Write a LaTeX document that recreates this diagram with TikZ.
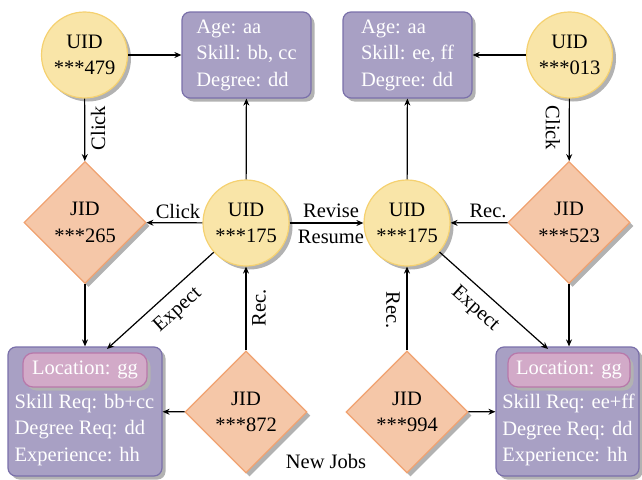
\documentclass[tikz,border=0pt]{standalone}
\usepackage{fontspec}
\setmainfont{Liberation Serif}
\usetikzlibrary{shapes.geometric,shadows,arrows.meta}
\definecolor{cfill}{HTML}{F9E5A8}
\definecolor{cdraw}{HTML}{F5D170}
\definecolor{dfill}{HTML}{F5C7A8}
\definecolor{ddraw}{HTML}{F0A270}
\definecolor{pfill}{HTML}{A8A0C4}
\definecolor{pdraw}{HTML}{7A70AA}
\definecolor{lfill}{HTML}{D2AAC8}
\definecolor{ldraw}{HTML}{B878AA}
\tikzset{
  shad/.style={drop shadow={shadow xshift=3.5pt,shadow yshift=-3.5pt,fill=black!30,opacity=1}},
  uid/.style={circle,shad,fill=cfill,draw=cdraw,line width=1.2pt,minimum size=86pt,inner sep=0pt,align=center},
  jid/.style={diamond,aspect=1,shad,fill=dfill,draw=ddraw,line width=1.2pt,minimum size=122pt,inner sep=0pt,align=center},
  prof/.style={rectangle,rounded corners=8pt,shad,fill=pfill,draw=pdraw,line width=1.2pt,inner sep=0pt},
  loc/.style={rectangle,rounded corners=10pt,shad,fill=lfill,draw=ldraw,line width=1.2pt,inner sep=0pt,text=white},
  wtxt/.style={text=white,align=left,inner sep=0pt},
  arr/.style={-{Stealth[length=7pt,width=6pt]},line width=1.2pt},
  lab/.style={inner sep=0pt}
}
\begin{document}
\begin{tikzpicture}[x=1pt,y=-1pt,font=\fontsize{20.5}{26.5}\selectfont]
\useasboundingbox (0,0) rectangle (642,479);
% circles
\node[uid] (u479) at (84.5,55) {UID\\***479};
\node[uid] (u013) at (569.5,55) {UID\\***013};
\node[uid] (u175l) at (246,223) {UID\\***175};
\node[uid] (u175r) at (407,223) {UID\\***175};
% diamonds
\node[jid] (j265) at (85,222.5) {JID\\***265};
\node[jid] (j523) at (569,222.5) {JID\\***523};
\node[jid] (j872) at (246,412) {JID\\***872};
\node[jid] (j994) at (407,412) {JID\\***994};
% profile boxes
\node[prof,minimum width=129pt,minimum height=86pt] (p1) at (246.5,55) {};
\node[wtxt] at (p1.center) {Age: aa\\Skill: bb, cc\\Degree: dd};
\node[prof,minimum width=129pt,minimum height=86pt] (p2) at (407.5,55) {};
\node[wtxt] at (p2.center) {Age: aa\\Skill: ee, ff\\Degree: dd};
% job boxes
\node[prof,minimum width=154pt,minimum height=129pt] (b1) at (85,411.5) {};
\node[loc,minimum width=124pt,minimum height=34pt] (l1) at (85,370) {Location: gg};
\node[wtxt] at (84.5,430) {Skill Req: bb+cc\\Degree Req: dd\\Experience: hh};
\node[prof,minimum width=143pt,minimum height=129pt] (b2) at (567.5,411.5) {};
\node[loc,minimum width=122pt,minimum height=34pt] (l2) at (569,370) {Location: gg};
\node[wtxt] at (568.5,430) {Skill Req: ee+ff\\Degree Req: dd\\Experience: hh};
% connectors
\draw[arr] (u479) -- (p1);
\draw[arr] (u013) -- (p2);
\draw[arr] (u479) -- (j265);
\draw[arr] (u013) -- (j523);
\draw[arr] (u175l) -- (p1);
\draw[arr] (u175r) -- (p2);
\draw[arr] (u175l) -- (j265);
\draw[arr] (u175l) -- (u175r);
\draw[arr] (j523) -- (u175r);
\draw[arr] (j265) -- (b1);
\draw[arr] (j523.south) -- (b2.north -| j523.south);
\draw[arr] (j872) -- (u175l);
\draw[arr] (j994) -- (u175r);
\draw[arr] (j872) -- (b1);
\draw[arr] (j994) -- (b2);
\coordinate (e1) at (107,349);
\coordinate (e2) at (548,349);
\draw[arr] (u175l) -- (e1);
\draw[arr] (u175r) -- (e2);
% labels
\node[lab,rotate=90] (c1) at (98,128) {Click};
\node[lab,rotate=-90] (c2) at (553,128) {Click};
\node[lab] (c3) at (178,211) {Click};
\node[lab] (rv) at (331,211) {Revise};
\node[lab] (rs) at (331,237) {Resume};
\node[lab] (r1) at (488,211) {Rec.};
\node[lab,rotate=90] (r2) at (259,308) {Rec.};
\node[lab,rotate=-90] (r3) at (393,310) {Rec.};
\node[lab,rotate=42] (x1) at (178,310) {Expect};
\node[lab,rotate=-42] (x2) at (475,309) {Expect};
\node[lab] (nj) at (326,461) {New Jobs};
\end{tikzpicture}
\end{document}
